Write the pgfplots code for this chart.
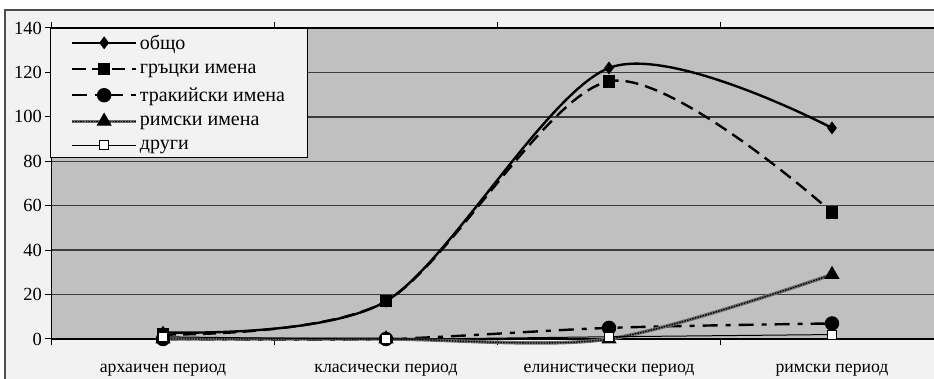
\documentclass[border=0pt]{standalone}
\usepackage{fontspec}
\setmainfont{Liberation Serif}
\usepackage{pgfplots}
\pgfplotsset{compat=1.18}
\definecolor{plotbg}{HTML}{C0C0C0}
\definecolor{framebg}{HTML}{F2F2F2}
\definecolor{gridc}{HTML}{3C3C3C}
\newcommand{\tickfont}{\fontsize{18.5}{20}\selectfont}
\newcommand{\catfont}{\fontsize{17.7}{20}\selectfont}
\newcommand{\legfont}{\fontsize{20}{22}\selectfont}

\begin{document}
\begin{tikzpicture}[x=1pt,y=1pt]
\useasboundingbox (0,0) rectangle (934,379);
\clip (0,0) rectangle (934,379);
\fill[white] (0,0) rectangle (934,379);
% chart frame
\draw[gray!60!black, line width=1.2pt, fill=framebg] (5,-20) rectangle (960,369);
\begin{axis}[
  scale only axis, width=892pt, height=311pt,
  at={(51.5pt,40pt)}, anchor=south west,
  xmin=-0.5, xmax=3.5, ymin=0, ymax=140,
  clip=false,
  axis background/.style={fill=plotbg},
  axis line style={black, line width=1.2pt},
  ytick={0,20,...,140},
  ymajorgrids, grid style={gridc, line width=1.4pt},
  tick align=outside, major tick length=6pt,
  tick style={black, line width=1pt},
  xtick={-0.5,0.5,1.5,2.5,3.5}, xticklabels={},
  extra x ticks={0,1,2,3},
  extra x tick labels={архаичен период, класически период, елинистически период, римски период},
  extra x tick style={major tick length=0pt},
  xticklabel style={font=\catfont, yshift=-22pt},
  yticklabel style={font=\tickfont},
  /pgf/number format/assume math mode=true,
  legend cell align=left,
  legend style={at={(0,1)}, anchor=north west, xshift=-1.5pt,
    fill=framebg, draw=black, line width=0.8pt, font=\legfont,
    inner xsep=20pt, inner ysep=3pt, row sep=6pt,
    nodes={inner ysep=3.5pt},
    /tikz/column 2/.style={column sep=3pt}},
  legend image code/.code={\draw[mark repeat=2,mark phase=2] plot coordinates {(0pt,0pt) (32pt,0pt) (64pt,0pt)};},
  every axis plot/.append style={smooth},
]
% total
\addplot[black, line width=2.4pt, mark=diamond*, mark size=4.5pt, mark options={solid}]
  coordinates {(0,3) (1,17) (2,122) (3,95)};
\addlegendentry{общо}
% Greek names
\addplot[black, line width=2.4pt, dash pattern=on 13pt off 7pt, mark=square*, mark size=5pt, mark options={solid}]
  coordinates {(0,2) (1,17) (2,116) (3,57)};
\addlegendentry{гръцки имена}
% Thracian names
\addplot[black, line width=2.4pt, dash pattern=on 15pt off 8pt on 5pt off 8pt, mark=*, mark size=6pt, mark options={solid}]
  coordinates {(0,0) (1,0) (2,5) (3,7)};
\addlegendentry{тракийски имена}
% Roman names
\addplot[black, line width=1.3pt, dash pattern=on 1.5pt off 1.2pt,
  preaction={draw, gray!85!black, line width=3.5pt, solid},
  mark=triangle*, mark size=7.5pt, mark options={solid}]
  coordinates {(0,0) (1,0) (2,0) (3,29)};
\addlegendentry{римски имена}
% other
\addplot[black, line width=1pt, mark=square*, mark size=4.5pt, mark options={solid, fill=white}]
  coordinates {(0,1) (1,0) (2,1) (3,2)};
\addlegendentry{други}
\end{axis}
\end{tikzpicture}
\end{document}
